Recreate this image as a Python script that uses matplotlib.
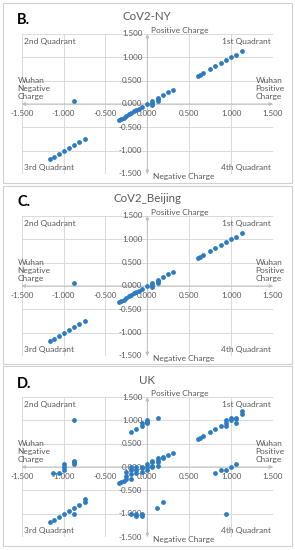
import matplotlib.pyplot as plt
from matplotlib.patches import Rectangle

plt.rcParams['font.family'] = ['Lato', 'DejaVu Sans']

W, H = 295, 550

# ---- data (Wuhan charge vs. variant charge) ----
ny_x = [-1.16, -1.12, -1.06, -1.00, -0.94, -0.87, -0.81, -0.75,
        -0.87,
        -0.34, -0.31, -0.28, -0.25, -0.22, -0.19, -0.16, -0.13, -0.10, -0.06,
        0.00, 0.06, 0.06, 0.06, 0.13, 0.13, 0.13, 0.19, 0.25, 0.31,
        0.60, 0.63, 0.66, 0.75, 0.81, 0.88, 0.94, 1.00, 1.06, 1.13]
ny_y = [-1.17, -1.13, -1.07, -1.00, -0.94, -0.88, -0.81, -0.75,
        0.06,
        -0.35, -0.32, -0.29, -0.26, -0.22, -0.19, -0.16, -0.13, -0.10, -0.06,
        0.00, -0.03, 0.03, 0.06, 0.06, 0.10, 0.13, 0.19, 0.25, 0.31,
        0.60, 0.63, 0.66, 0.75, 0.81, 0.88, 0.94, 1.00, 1.06, 1.13]

beijing_x = [-1.16, -1.12, -1.06, -1.00, -0.94, -0.87, -0.81, -0.75,
             -0.87,
             -0.34, -0.31, -0.28, -0.25, -0.22, -0.19, -0.16, -0.13, -0.10, -0.06,
             0.00, 0.06, 0.06, 0.06, 0.13, 0.13, 0.13, 0.19, 0.25, 0.31,
             0.60, 0.63, 0.66, 0.75, 0.81, 0.88, 0.94, 1.00, 1.06, 1.13]
beijing_y = [-1.17, -1.13, -1.07, -1.00, -0.94, -0.88, -0.81, -0.75,
             0.06,
             -0.35, -0.32, -0.29, -0.26, -0.22, -0.19, -0.16, -0.13, -0.10, -0.06,
             0.00, -0.03, 0.03, 0.06, 0.06, 0.10, 0.13, 0.19, 0.25, 0.31,
             0.60, 0.63, 0.66, 0.75, 0.81, 0.88, 0.94, 1.00, 1.06, 1.13]

uk_x = [-1.16, -1.12, -1.06, -1.00, -0.94, -0.87, -0.81, -0.75, -0.87, -0.75,
        -1.13, -1.06, -1.00, -1.00, -1.00, -0.87, -0.87, -0.87,
        -0.87,
        -0.19, -0.13, -0.06, -0.06, 0.00, 0.00, 0.00, 0.13,
        -0.34, -0.31, -0.28, -0.25, -0.25, -0.25, -0.19, -0.19, -0.19, -0.19,
        -0.13, -0.13, -0.13, -0.06, -0.06, -0.06, 0.00, 0.00, 0.00,
        0.06, 0.06, 0.06, 0.06, 0.13, 0.13, 0.13, 0.13, 0.19, 0.19, 0.25, 0.31,
        -0.19, -0.13, -0.13, -0.06, -0.06, 0.12, 0.19,
        0.60, 0.63, 0.66, 0.75, 0.81, 0.88, 0.94, 1.00, 1.06, 1.13,
        0.94, 0.94, 1.00, 1.06, 1.06, 1.13,
        0.81, 0.88, 0.94, 1.00, 1.06, 0.94]
uk_y = [-1.17, -1.13, -1.07, -1.00, -0.94, -0.88, -0.81, -0.75, -1.00, -0.69,
        -0.13, -0.13, -0.06, 0.00, 0.06, 0.06, 0.10, 0.13,
        1.00,
        0.75, 0.81, 0.88, 0.94, 0.94, 0.97, 1.00, 1.06,
        -0.35, -0.32, -0.29, -0.26, -0.19, -0.10, -0.25, -0.16, -0.06, 0.00,
        -0.13, -0.06, 0.00, -0.10, -0.03, 0.00, -0.06, 0.00, 0.06,
        0.00, 0.03, 0.10, 0.13, 0.03, 0.10, 0.16, 0.19, 0.19, 0.22, 0.25, 0.31,
        -1.00, -1.00, -1.06, -1.00, -1.06, -0.87, -0.75,
        0.60, 0.63, 0.66, 0.75, 0.81, 0.88, 0.94, 1.00, 1.06, 1.13,
        0.88, 1.00, 1.06, 0.94, 1.03, 1.19,
        -0.13, -0.06, -0.06, 0.00, 0.06, -1.00]

ticks = [-1.5, -1.0, -0.5, 0.0, 0.5, 1.0, 1.5]
tick_labels = ['-1.500', '-1.000', '-0.500', '0.000', '0.500', '1.000', '1.500']

panels = [
    ('B.', 'CoV2-NY', ny_x, ny_y),
    ('C.', 'CoV2_Beijing', beijing_x, beijing_y),
    ('D.', 'UK', uk_x, uk_y),
]
# frame top/bottom, plot top/bottom, title y (pixels from top)
layout = [(3, 183, 34, 174, 17),
          (186, 364, 216, 356, 199),
          (366, 546, 397, 537, 381)]

dot = '#2e7bbf'
txt = '#595959'
grid = '#d9d9d9'
axc = '#bfbfbf'

fig = plt.figure(figsize=(W / 100, H / 100), dpi=100)

for (letter, title, xs, ys), (ft, fb, pt, pb, ty) in zip(panels, layout):
    fig.patches.append(Rectangle((3 / W, 1 - fb / H), 289 / W, (fb - ft) / H,
                                 transform=fig.transFigure, fill=False,
                                 edgecolor='#d0d0d0', linewidth=0.8))
    fig.text(17 / W, 1 - (ty + 3) / H, letter, fontsize=10.5, fontweight='bold',
             color='black', ha='left', va='center')
    fig.text(147 / W, 1 - ty / H, title, fontsize=8.3, color=txt,
             ha='center', va='center')

    ax = fig.add_axes([21.7 / W, 1 - pb / H, 251.3 / W, (pb - pt) / H])
    ax.set_xlim(-1.5, 1.5)
    ax.set_ylim(-1.5, 1.5)
    for s in ax.spines.values():
        s.set_visible(False)
    ax.set_xticks(ticks)
    ax.set_yticks(ticks)
    ax.tick_params(length=0, labelbottom=False, labelleft=False)
    ax.grid(True, color=grid, linewidth=0.7)
    ax.set_axisbelow(True)

    # axes through the origin with arrows at both ends
    for x0, y0, x1, y1 in [(0, 0, -1.5, 0), (0, 0, 1.5, 0), (0, 0, 0, 1.5), (0, 0, 0, -1.5)]:
        ax.annotate('', xy=(x1, y1), xytext=(x0, y0),
                    arrowprops=dict(arrowstyle='-|>', color=axc, lw=0.7,
                                    mutation_scale=5, shrinkA=0, shrinkB=0),
                    annotation_clip=False)

    for t, lab in zip(ticks, tick_labels):
        ax.text(t, -0.21, lab, fontsize=5.8, color=txt, ha='center', va='center')
        ax.text(-0.06, t, lab, fontsize=5.8, color=txt, ha='right', va='center',
                clip_on=False)

    ax.scatter(xs, ys, s=12, color=dot, zorder=3, linewidths=0, clip_on=False)

    kw = dict(fontsize=6, color=txt, clip_on=False)
    ax.text(-1.47, 1.33, '2nd Quadrant', ha='left', va='center', **kw)
    ax.text(1.47, 1.33, '1st Quadrant', ha='right', va='center', **kw)
    ax.text(-1.47, -1.37, '3rd Quadrant', ha='left', va='center', **kw)
    ax.text(1.47, -1.37, '4th Quadrant', ha='right', va='center', **kw)
    ax.text(0.04, 1.57, 'Positive Charge', ha='left', va='center', **kw)
    ax.text(0.07, -1.55, 'Negative Charge', ha='left', va='center', **kw)
    ax.text(-1.55, 0.34, 'Wuhan\nNegative\nCharge', ha='left', va='center',
            linespacing=1.15, **kw)
    ax.text(1.29, 0.34, 'Wuhan\nPositive\nCharge', ha='left', va='center',
            linespacing=1.15, **kw)

fig.savefig('out.png', dpi=100, facecolor='white')
